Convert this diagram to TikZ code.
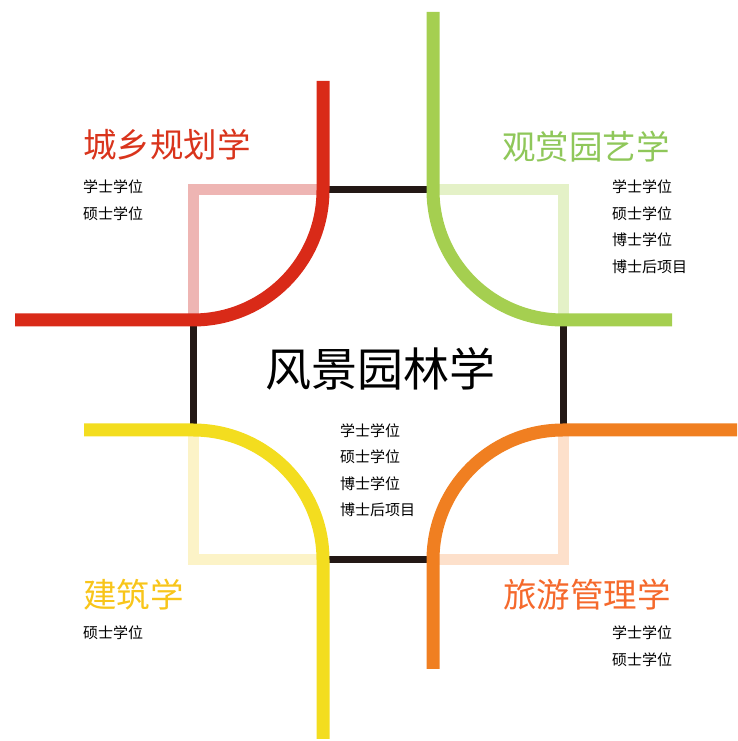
\documentclass[tikz,border=0pt]{standalone}
\usepackage{fontspec}
\setmainfont{Noto Sans CJK SC}
\definecolor{lred}{HTML}{D92A18}
\definecolor{lpink}{HTML}{EEB5B3}
\definecolor{lgreen}{HTML}{A5CF50}
\definecolor{lpalegreen}{HTML}{E4F1C7}
\definecolor{lyellow}{HTML}{F3DD1F}
\definecolor{lpaleyellow}{HTML}{FCF3C7}
\definecolor{lorange}{HTML}{F07F21}
\definecolor{lpaleorange}{HTML}{FDE0CB}
\definecolor{lblack}{HTML}{231815}
\definecolor{tred}{HTML}{D9341C}
\definecolor{tgreen}{HTML}{8FC75A}
\definecolor{tyellow}{HTML}{F8C51A}
\definecolor{torange}{HTML}{F5692C}
\begin{document}
\begin{tikzpicture}[x=1pt, y=1pt,
	route/.style={line width=13pt},
	frame/.style={line width=7pt, draw=lblack},
	shade/.style={line width=11pt},
	major/.style={inner sep=0pt, font=\fontsize{33.5}{38}\selectfont},
	degrees/.style={inner sep=0pt, anchor=west, align=left, font=\fontsize{15}{26.5}\selectfont}]
			%\draw[help lines, color=gray!30, dashed] (0,0) grid[step=50] (737,741);
			\useasboundingbox (0,0) rectangle (737,741);
			\coordinate (nw) at (193,551);
			\coordinate (ne) at (563,551);
			\coordinate (sw) at (193,181);
			\coordinate (se) at (563,181);
			% black frame
			\draw[frame] (323,551) -- (433,551);
			\draw[frame] (563,421) -- (563,311);
			\draw[frame] (323,181) -- (433,181);
			\draw[frame] (193,421) -- (193,311);
			% pale corners
			\draw[shade, draw=lpink] (193,421) -- (nw) -- (323,551);
			\draw[shade, draw=lpalegreen] (433,551) -- (ne) -- (563,421);
			\draw[shade, draw=lpaleyellow] (193,311) -- (sw) -- (323,181);
			\draw[shade, draw=lpaleorange] (563,311) -- (se) -- (433,181);
			% lines
			\draw[route, draw=lred] (323,660) -- (323,551) arc[start angle=0, end angle=-90, radius=130] -- (15,421);
			\draw[route, draw=lgreen] (433,729) -- (433,551) arc[start angle=180, end angle=270, radius=130] -- (672,421);
			\draw[route, draw=lyellow] (84,311) -- (193,311) arc[start angle=90, end angle=0, radius=130] -- (323,2);
			\draw[route, draw=lorange] (737,311) -- (563,311) arc[start angle=90, end angle=180, radius=130] -- (433,72);
			% texts
			\node[inner sep=0pt, font=\fontsize{46}{50}\selectfont] (main) at (380,372) {风景园林学};
			\node[degrees] (mainlist) at (340,270.5) {学士学位\\硕士学位\\博士学位\\博士后项目};
			\node[major, anchor=west, text=tred] (plan) at (83,596) {城乡规划学};
			\node[degrees] (planlist) at (83,541) {学士学位\\硕士学位};
			\node[major, anchor=east, text=tgreen] (hort) at (670,594) {观赏园艺学};
			\node[degrees] (hortlist) at (612,514) {学士学位\\硕士学位\\博士学位\\博士后项目};
			\node[major, anchor=west, text=tyellow] (arch) at (83,146) {建筑学};
			\node[degrees] (archlist) at (83,108) {硕士学位};
			\node[major, anchor=west, text=torange] (tour) at (503,146) {旅游管理学};
			\node[degrees] (tourlist) at (612,95) {学士学位\\硕士学位};
\end{tikzpicture}
\end{document}
